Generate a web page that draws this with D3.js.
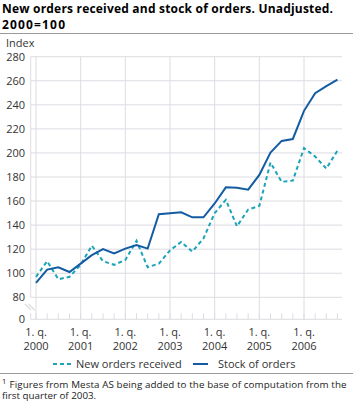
<!DOCTYPE html>
<html><head><meta charset="utf-8">
<script src="https://cdn.jsdelivr.net/npm/d3@7"></script>
<style>
html,body{margin:0;padding:0;background:#fff;}
svg{display:block;font-family:"Open Sans",sans-serif;}
</style></head>
<body><svg id="c" width="353" height="403"></svg>
<script>
const years = ["2000","2001","2002","2003","2004","2005","2006"];
const quarters = years.flatMap(y => [1,2,3,4].map(q => y + "Q" + q));
const newOrders = [97,110,95,97,107,123,110,107,111,127,105,108,119,126,118,129,150,161,139,153,156,192,176,177,204,197,187,202];
const stockOrders = [92,103,105,101,108,115,120,116.5,120.5,123.5,120.5,149,149.8,150.6,146.5,146.5,158,171.4,171,169.5,181.7,200.4,210,211.6,235,249.6,255.6,261];
const yTicks = [0,80,100,120,140,160,180,200,220,240,260,280];
const seriesNames = ["New orders received","Stock of orders"];
const colors = ["#1ba3b8","#135ca3"];

(function(){
const svg = d3.select("#c");
const x = d3.scalePoint().domain(quarters).range([36, 337.5]);
const y = d3.scaleLinear().domain([0,80,280]).range([319.3,297.3,56.7]);
const pLeft = 30.7, pRight = 342, pBottom = 319.3, pTop = 56.7;
const grid = "#dcdce2";

const title = svg.append("g").attr("font-weight","bold").attr("font-size",12).attr("fill","#000");
title.append("text").attr("x",2).attr("y",13).attr("textLength",331).attr("lengthAdjust","spacing")
  .text("New orders received and stock of orders. Unadjusted.");
title.append("text").attr("x",2).attr("y",29).attr("textLength",63).attr("lengthAdjust","spacing").text("2000=100");
svg.append("line").attr("x1",0).attr("x2",353).attr("y1",33.5).attr("y2",33.5).attr("stroke","#9a9a9a");

svg.append("text").attr("x",6).attr("y",46.5).attr("font-size",11).attr("fill","#333").text("Index");

svg.append("g").selectAll("line").data(yTicks.filter(d=>d>=80)).join("line")
  .attr("x1",pLeft).attr("x2",pRight).attr("y1",d=>y(d)).attr("y2",d=>y(d))
  .attr("stroke",grid).attr("stroke-width",1);
svg.append("g").selectAll("line").data(years).join("line")
  .attr("x1",d=>x(d+"Q1")).attr("x2",d=>x(d+"Q1")).attr("y1",pTop).attr("y2",pBottom)
  .attr("stroke",grid).attr("stroke-width",1);
svg.append("line").attr("x1",pLeft).attr("x2",pRight).attr("y1",pBottom).attr("y2",pBottom).attr("stroke",grid);
svg.append("g").selectAll("line").data(quarters).join("line")
  .attr("x1",d=>x(d)).attr("x2",d=>x(d)).attr("y1",pBottom-6).attr("y2",pBottom)
  .attr("stroke",grid);
svg.append("line").attr("x1",pLeft).attr("x2",pLeft).attr("y1",pTop).attr("y2",y(80)).attr("stroke",grid);
svg.append("line").attr("x1",pLeft).attr("x2",pLeft).attr("y1",pBottom-6).attr("y2",pBottom).attr("stroke",grid);
[0,3.5].forEach(o=>{
  svg.append("line").attr("x1",25+o).attr("y1",304).attr("x2",31+o).attr("y2",310).attr("stroke",grid).attr("stroke-width",1.2);
});

svg.append("g").attr("font-size",11).attr("fill","#333").attr("text-anchor","end")
  .selectAll("text").data(yTicks).join("text")
  .attr("x",25).attr("y",d=>y(d)+4).text(d=>d);

const xl = svg.append("g").attr("font-size",11).attr("fill","#333").attr("text-anchor","middle");
xl.selectAll("text.q").data(years).join("text").attr("class","q")
  .attr("x",d=>x(d+"Q1")).attr("y",336).text("1. q.");
xl.selectAll("text.yr").data(years).join("text").attr("class","yr")
  .attr("x",d=>x(d+"Q1")).attr("y",350).text(d=>d);

const line = d3.line().x((d,i)=>x(quarters[i])).y(d=>y(d));
svg.append("path").datum(newOrders).attr("d",line).attr("fill","none")
  .attr("stroke",colors[0]).attr("stroke-width",2).attr("stroke-dasharray","4,3");
svg.append("path").datum(stockOrders).attr("d",line).attr("fill","none")
  .attr("stroke",colors[1]).attr("stroke-width",2);

const lg = svg.append("g").attr("font-size",11).attr("fill","#333");
lg.append("line").attr("x1",53).attr("x2",72).attr("y1",364).attr("y2",364)
  .attr("stroke",colors[0]).attr("stroke-width",2).attr("stroke-dasharray","4,3");
lg.append("text").attr("x",76).attr("y",368).text(seriesNames[0]);
lg.append("line").attr("x1",193).attr("x2",208).attr("y1",364).attr("y2",364)
  .attr("stroke",colors[1]).attr("stroke-width",2);
lg.append("text").attr("x",218).attr("y",368).text(seriesNames[1]);

svg.append("line").attr("x1",0).attr("x2",353).attr("y1",373.5).attr("y2",373.5).attr("stroke","#9a9a9a");

const fn = svg.append("g").attr("font-size",9.8).attr("fill","#222");
fn.append("text").attr("x",2).attr("y",384).attr("font-size",7.5).text("1");
fn.append("text").attr("x",9.5).attr("y",387.5).attr("textLength",337).attr("lengthAdjust","spacing")
  .text("Figures from Mesta AS being added to the base of computation from the");
fn.append("text").attr("x",2).attr("y",399).text("first quarter of 2003.");
})();
</script></body></html>
